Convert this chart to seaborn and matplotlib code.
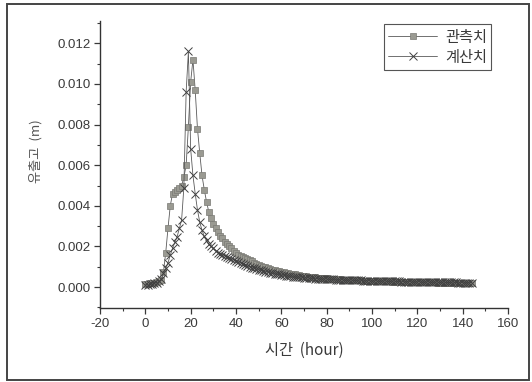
import numpy as np
import pandas as pd
import matplotlib
matplotlib.use("Agg")
import matplotlib.pyplot as plt
import seaborn as sns
from matplotlib.patches import Rectangle
from matplotlib.ticker import MultipleLocator, FormatStrFormatter

# hourly time axis (0..144 h)
hours = list(range(0, 145))

# observed runoff depth (m)  관측치
observed = [
    0.00015, 0.00016, 0.00018, 0.00020, 0.00022, 0.00025, 0.00028, 0.00033, 0.00075, 0.0017,
    0.0029, 0.0040, 0.0046, 0.0047, 0.0048, 0.0049, 0.0050, 0.0054, 0.0060, 0.0079,
    0.0101, 0.0112, 0.0097, 0.0078, 0.0066, 0.0055, 0.0048, 0.0042, 0.0037, 0.0034,
    0.0031, 0.0029, 0.0027, 0.0025, 0.0024, 0.0022, 0.0021, 0.0020, 0.0019, 0.0018,
    0.0017, 0.0016, 0.00155, 0.0015, 0.00145, 0.0014, 0.00133, 0.00127, 0.00121, 0.00116,
    0.00111, 0.00106, 0.00101, 0.00097, 0.00093, 0.00089, 0.00086, 0.00083, 0.0008, 0.00077,
    0.00075, 0.00072, 0.0007, 0.00068, 0.00066, 0.00064, 0.00062, 0.0006, 0.00058, 0.00056,
    0.00055, 0.00054, 0.00052, 0.00051, 0.0005, 0.00049, 0.00047, 0.00046, 0.00045, 0.00044,
    0.00043, 0.00042, 0.00041, 0.0004, 0.0004, 0.00039, 0.00038, 0.00037, 0.00037, 0.00036,
    0.00035, 0.00035, 0.00034, 0.00034, 0.00033, 0.00033, 0.00032, 0.00032, 0.00031, 0.00031,
    0.0003, 0.0003, 0.0003, 0.00029, 0.00029, 0.00029, 0.00028, 0.00028, 0.00028, 0.00027,
    0.00027, 0.00027, 0.00026, 0.00026, 0.00026, 0.00026, 0.00025, 0.00025, 0.00025, 0.00025,
    0.00024, 0.00024, 0.00024, 0.00024, 0.00023, 0.00023, 0.00023, 0.00023, 0.00023, 0.00022,
    0.00022, 0.00022, 0.00022, 0.00022, 0.00021, 0.00021, 0.00021, 0.00021, 0.00021, 0.0002,
    0.0002, 0.0002, 0.0002, 0.0002, 0.0002,
]

# calculated runoff depth (m)  계산치
calculated = [
    0.0001, 0.00011, 0.00013, 0.00015, 0.00018, 0.00022, 0.00028, 0.00038, 0.00067, 0.00092,
    0.0012, 0.00157, 0.0019, 0.0022, 0.00247, 0.00289, 0.0033, 0.0049, 0.0096, 0.0116,
    0.0068, 0.0055, 0.0046, 0.0038, 0.0032, 0.0028, 0.0025, 0.0023, 0.0021, 0.0020,
    0.0019, 0.0018, 0.0017, 0.00165, 0.0016, 0.00155, 0.0015, 0.00145, 0.0014, 0.00135,
    0.0013, 0.00125, 0.0012, 0.00115, 0.0011, 0.00105, 0.001, 0.00096, 0.00092, 0.00088,
    0.00085, 0.00082, 0.00079, 0.00076, 0.00073, 0.0007, 0.00068, 0.00066, 0.00064, 0.00062,
    0.0006, 0.00058, 0.00057, 0.00055, 0.00054, 0.00052, 0.00051, 0.0005, 0.00049, 0.00048,
    0.00047, 0.00046, 0.00045, 0.00044, 0.00043, 0.00042, 0.00042, 0.00041, 0.0004, 0.0004,
    0.00039, 0.00039, 0.00038, 0.00038, 0.00037, 0.00037, 0.00036, 0.00036, 0.00035, 0.00035,
    0.00034, 0.00034, 0.00034, 0.00033, 0.00033, 0.00033, 0.00032, 0.00032, 0.00032, 0.00031,
    0.00031, 0.00031, 0.0003, 0.0003, 0.0003, 0.0003, 0.00029, 0.00029, 0.00029, 0.00029,
    0.00028, 0.00028, 0.00028, 0.00027, 0.00027, 0.00027, 0.00027, 0.00026, 0.00026, 0.00026,
    0.00026, 0.00026, 0.00025, 0.00025, 0.00025, 0.00025, 0.00025, 0.00024, 0.00024, 0.00024,
    0.00024, 0.00024, 0.00023, 0.00023, 0.00023, 0.00023, 0.00023, 0.00023, 0.00022, 0.00022,
    0.00022, 0.00022, 0.00022, 0.00022, 0.00021,
]

series_labels = ["관측치", "계산치"]
x_ticks = [-20, 0, 20, 40, 60, 80, 100, 120, 140, 160]
y_ticks = [0.000, 0.002, 0.004, 0.006, 0.008, 0.010, 0.012]

sns.set_style("ticks")
plt.rcParams["font.family"] = ["Liberation Sans", "Noto Sans CJK KR", "DejaVu Sans"]
plt.rcParams["axes.unicode_minus"] = False

df_obs = pd.DataFrame({"t": hours, "q": observed})
df_cal = pd.DataFrame({"t": hours, "q": calculated})

fig = plt.figure(figsize=(5.32, 3.82), dpi=100)
ax = fig.add_axes([100 / 532, 1 - 308 / 382, 408 / 532, 287 / 382])

sns.lineplot(data=df_obs, x="t", y="q", ax=ax, color="#5a5a5a", linewidth=0.6,
             marker="s", markersize=4.6, markerfacecolor="#9a9a92",
             markeredgecolor="#7a7a74", markeredgewidth=0.5, label=series_labels[0])
sns.lineplot(data=df_cal, x="t", y="q", ax=ax, color="#5a5a5a", linewidth=0.6,
             marker="x", markersize=6, markeredgecolor="#404040",
             markeredgewidth=0.7, label=series_labels[1])

ax.set_xlim(-20, 160)
ax.set_ylim(-0.00103, 0.0131)
ax.set_xticks(x_ticks)
ax.set_yticks(y_ticks)
ax.xaxis.set_minor_locator(MultipleLocator(10))
ax.yaxis.set_minor_locator(MultipleLocator(0.001))
ax.yaxis.set_major_formatter(FormatStrFormatter("%.3f"))
ax.tick_params(axis="both", which="major", direction="out", length=4, width=0.9,
               labelsize=9.5, colors="#3a3a3a", pad=3)
ax.tick_params(axis="both", which="minor", direction="out", length=2.2, width=0.8,
               colors="#3a3a3a")
for s in ["top", "right"]:
    ax.spines[s].set_visible(False)
for s in ["left", "bottom"]:
    ax.spines[s].set_color("#333333")
    ax.spines[s].set_linewidth(1.0)

ax.set_xlabel("시간  (hour)", fontsize=11, color="#3a3a3a", labelpad=9,
              family=["Noto Sans CJK KR", "Liberation Sans"])
ax.set_ylabel("유출고  (m)", fontsize=9.5, color="#555555",
              family=["Noto Sans CJK KR", "Liberation Sans"])
ax.yaxis.set_label_coords(-0.14, 0.545)

leg = ax.legend(loc="upper right", bbox_to_anchor=(0.967, 1.0), frameon=True,
                fancybox=False, edgecolor="#555555", framealpha=1,
                prop={"family": ["Noto Sans CJK KR", "DejaVu Sans"], "size": 11},
                handlelength=3.2, borderpad=0.3, labelspacing=0.2, handletextpad=0.5,
                borderaxespad=0.2)
leg.get_frame().set_linewidth(0.8)
for txt in leg.get_texts():
    txt.set_color("#3a3a3a")

# scanned page frame
fig.patches.append(Rectangle((7 / 532, 2 / 382), 522 / 532, 376 / 382,
                             transform=fig.transFigure, fill=False,
                             edgecolor="#444444", linewidth=1.4))

fig.savefig("out.png", dpi=100)
